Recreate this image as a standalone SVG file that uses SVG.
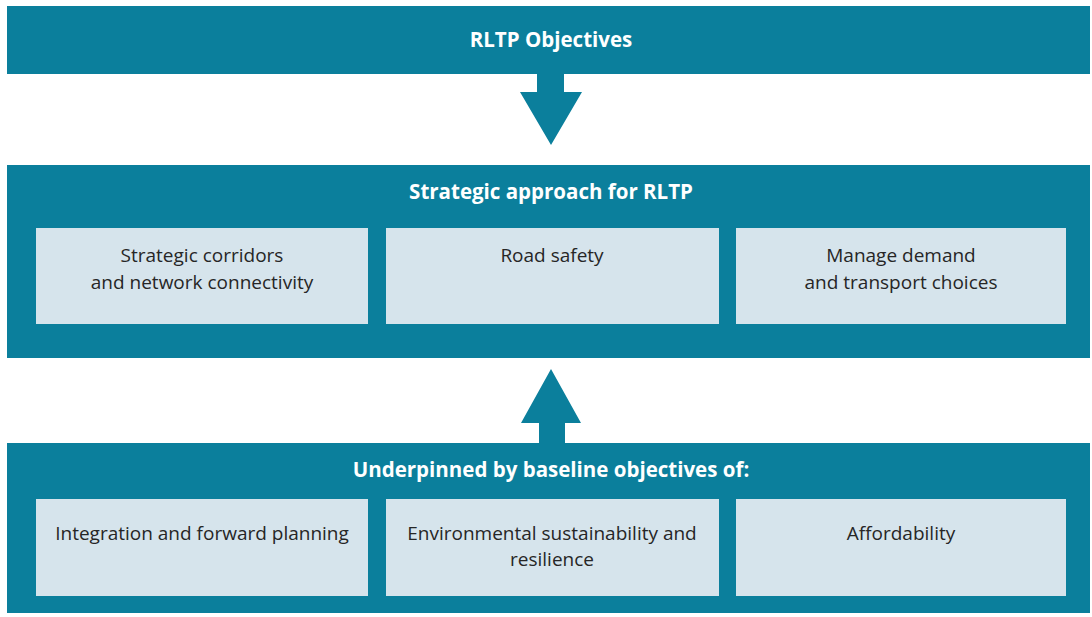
<svg xmlns="http://www.w3.org/2000/svg" width="1092" height="617" viewBox="0 0 1092 617">
<style>
.band{fill:#0b7f9c}
.box{fill:#d6e4ec}
.title{font-family:"Open Sans","Liberation Sans",sans-serif;font-weight:bold;font-size:20.5px;fill:#ffffff;text-anchor:middle}
.lbl{font-family:"Open Sans","Liberation Sans",sans-serif;font-size:19px;fill:#262626;text-anchor:middle}
.arrow{fill:#0b7f9c}
</style>
<rect width="1092" height="617" fill="#ffffff"/>
<g id="objectives">
<rect class="band" x="7" y="6" width="1083" height="68"/>
<text class="title" x="551" y="47">RLTP Objectives</text>
</g>
<g id="strategic">
<rect class="band" x="7" y="165" width="1083" height="193"/>
<text class="title" x="551" y="199">Strategic approach for RLTP</text>
</g>
<g id="corridors">
<rect class="box" x="36" y="228" width="332" height="96"/>
<text class="lbl" x="202" y="262">Strategic corridors</text>
<text class="lbl" x="202" y="289">and network connectivity</text>
</g>
<g id="safety">
<rect class="box" x="386" y="228" width="333" height="96"/>
<text class="lbl" x="552" y="262">Road safety</text>
</g>
<g id="demand">
<rect class="box" x="736" y="228" width="330" height="96"/>
<text class="lbl" x="901" y="262">Manage demand</text>
<text class="lbl" x="901" y="289">and transport choices</text>
</g>
<g id="baseline">
<rect class="band" x="7" y="443" width="1083" height="170"/>
<text class="title" x="551" y="477">Underpinned by baseline objectives of:</text>
</g>
<g id="integration">
<rect class="box" x="36" y="499" width="332" height="97"/>
<text class="lbl" x="202" y="540">Integration and forward planning</text>
</g>
<g id="environment">
<rect class="box" x="386" y="499" width="333" height="97"/>
<text class="lbl" x="552" y="540">Environmental sustainability and</text>
<text class="lbl" x="552" y="566">resilience</text>
</g>
<g id="affordability">
<rect class="box" x="736" y="499" width="330" height="97"/>
<text class="lbl" x="901" y="540">Affordability</text>
</g>
<g id="connectors">
<polygon class="arrow" points="537,74 564,74 564,92 582,92 551,145 520,92 537,92"/>
<polygon class="arrow" points="551,369 581,423 565,423 565,444 539,444 539,423 521,423"/>
</g>
</svg>
